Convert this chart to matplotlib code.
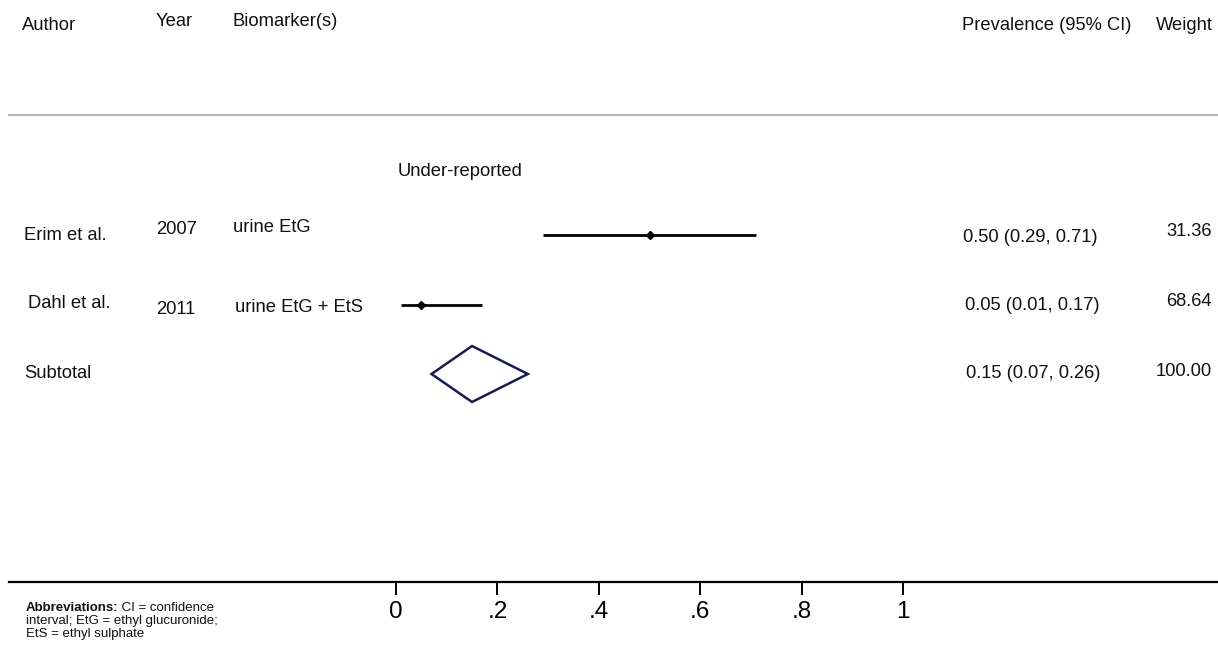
import matplotlib
matplotlib.use("Agg")
import matplotlib.pyplot as plt
from matplotlib.patches import Polygon

plt.rcParams['font.family'] = ['Liberation Sans', 'DejaVu Sans']

# ---- data ----
authors = ["Erim et al.", "Dahl et al."]
years = ["2007", "2011"]
biomarkers = ["urine EtG", "urine EtG + EtS"]
est = [0.50, 0.05]
lo = [0.29, 0.01]
hi = [0.71, 0.17]
weights = ["31.36", "68.64"]
sub_est, sub_lo, sub_hi = 0.15, 0.07, 0.26
sub_weight = "100.00"
ticks = [0, 0.2, 0.4, 0.6, 0.8, 1.0]
tick_labels = ["0", ".2", ".4", ".6", ".8", "1"]

W, H = 1218, 647
fig = plt.figure(figsize=(W / 100, H / 100), dpi=100)

ax_left, ax_right, ax_top, ax_bot = 9, 1218, 115, 582
ax = fig.add_axes([ax_left / W, (H - ax_bot) / H, (ax_right - ax_left) / W, (ax_bot - ax_top) / H])
scale = 507.0
x0_px = 396.0
ax.set_xlim(-(x0_px - ax_left) / scale, (ax_right - x0_px) / scale)
ax.set_ylim(ax_bot, ax_top)

def px(x):
    return (x - x0_px) / scale

for s in ["left", "right"]:
    ax.spines[s].set_visible(False)
ax.spines["top"].set_color("#b4b4b4")
ax.spines["top"].set_linewidth(1.5)
ax.spines["bottom"].set_color("black")
ax.spines["bottom"].set_linewidth(1.6)
ax.set_yticks([])
ax.set_xticks(ticks)
ax.set_xticklabels(tick_labels, fontsize=17.5)
ax.tick_params(axis="x", direction="out", length=9, width=1.4, pad=5, colors="black")

fs = 13.2
kw = dict(fontsize=fs, color="#111111", clip_on=False)

# header
ax.text(px(22), 25, "Author", va="center", ha="left", **kw)
ax.text(px(156), 22, "Year", va="center", ha="left", **kw)
ax.text(px(233), 22, "Biomarker(s)", va="center", ha="left", **kw)
ax.text(px(962), 25, "Prevalence (95% CI)", va="center", ha="left", **kw)
ax.text(px(1213), 25, "Weight", va="center", ha="right", **kw)

ax.text(px(398), 171, "Under-reported", va="center", ha="left", **kw)

# study rows
row_y = [235, 305]
author_pos = [(24, 236), (28, 304)]
year_pos = [(156, 230), (156, 309)]
bio_pos = [(233, 228), (235, 308)]
ci_pos = [(963, 237), (965, 305)]
w_pos = [(1212, 231), (1212, 302)]
for i in range(len(authors)):
    y = row_y[i]
    ax.plot([lo[i], hi[i]], [y, y], color="black", lw=2, solid_capstyle="butt")
    ax.plot([est[i]], [y], marker="D", color="black", ms=4.5)
    ax.text(px(author_pos[i][0]), author_pos[i][1], authors[i], va="center", ha="left", **kw)
    ax.text(px(year_pos[i][0]), year_pos[i][1], years[i], va="center", ha="left", **kw)
    ax.text(px(bio_pos[i][0]), bio_pos[i][1], biomarkers[i], va="center", ha="left", **kw)
    ax.text(px(ci_pos[i][0]), ci_pos[i][1],
            f"{est[i]:.2f} ({lo[i]:.2f}, {hi[i]:.2f})", va="center", ha="left", **kw)
    ax.text(px(w_pos[i][0]), w_pos[i][1], weights[i], va="center", ha="right", **kw)

# subtotal
sy = 374
half_h = 28
diamond = Polygon([(sub_lo, sy), (sub_est, sy - half_h), (sub_hi, sy), (sub_est, sy + half_h)],
                  closed=True, fill=False, edgecolor="#1a1a5c", lw=1.8)
ax.add_patch(diamond)
ax.text(px(24), 374, "Subtotal", va="center", ha="left", **kw)
ax.text(px(966), 373, f"{sub_est:.2f} ({sub_lo:.2f}, {sub_hi:.2f})", va="center", ha="left", **kw)
ax.text(px(1212), 371, sub_weight, va="center", ha="right", **kw)

# abbreviations footnote
fn = 9.5
t1 = fig.text(26 / W, 1 - 611 / H, "Abbreviations:", fontsize=fn, fontweight="bold",
              va="baseline", ha="left", color="#111111")
ax.annotate(" CI = confidence", xy=(1, 0), xycoords=t1, xytext=(0, 0), textcoords="offset points",
            fontsize=fn, va="bottom", ha="left", color="#111111", annotation_clip=False)
fig.text(26 / W, 1 - 624 / H, "interval; EtG = ethyl glucuronide;", fontsize=fn,
         va="baseline", ha="left", color="#111111")
fig.text(26 / W, 1 - 637 / H, "EtS = ethyl sulphate", fontsize=fn,
         va="baseline", ha="left", color="#111111")

fig.savefig("out.png", dpi=100)
